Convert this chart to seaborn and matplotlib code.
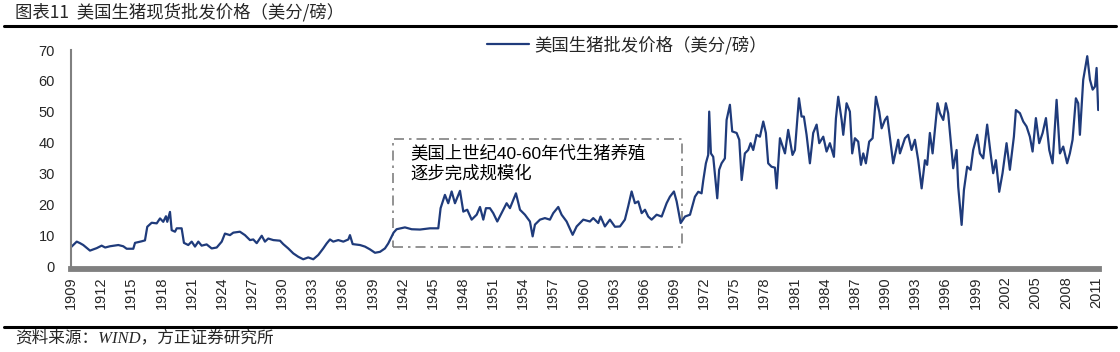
import matplotlib
matplotlib.use("Agg")
import matplotlib.pyplot as plt
import pandas as pd
import seaborn as sns
from matplotlib.lines import Line2D
from matplotlib.patches import Rectangle

TITLE = "图表11  美国生猪现货批发价格（美分/磅）"
SERIES_NAME = "美国生猪批发价格（美分/磅）"
NOTE = "美国上世纪40-60年代生猪养殖\n逐步完成规模化"
SOURCE = "资料来源：WIND，方正证券研究所"

# values (year position, cents per pound)
years_1909_1941 = [
    1909.0, 1909.57, 1909.9, 1910.22, 1910.89, 1911.56, 1912.05, 1912.4, 1912.88, 1913.71,
    1914.2, 1914.54, 1915.2, 1915.37, 1916.03, 1916.36, 1916.59, 1917.03, 1917.53, 1917.86,
    1918.18, 1918.45, 1918.58, 1918.85, 1919.02, 1919.35, 1919.52, 1920.01, 1920.24, 1920.67,
    1921.01, 1921.34, 1921.67, 1922.0, 1922.5, 1923.0, 1923.5, 1924.0, 1924.32, 1924.82,
    1925.15, 1925.81, 1926.31, 1926.81, 1927.14, 1927.48, 1927.98, 1928.3, 1928.63, 1929.13,
    1929.8, 1930.12, 1930.62, 1931.12, 1931.62, 1932.11, 1932.61, 1933.11, 1933.61, 1934.1,
    1934.44, 1934.77, 1935.1, 1935.6, 1936.1, 1936.6, 1936.76, 1937.03, 1937.76, 1938.25,
    1938.75, 1939.25, 1939.75, 1940.24, 1940.57, 1940.9,
]
price_1909_1941 = [
    6.3, 8.1, 7.6, 7.0, 5.2, 6.0, 6.8, 6.2, 6.6, 7.0,
    6.6, 5.8, 5.8, 7.7, 8.2, 8.5, 12.9, 14.2, 14.0, 15.6,
    14.5, 16.3, 14.5, 17.7, 11.8, 11.3, 12.4, 12.4, 7.7, 7.0,
    8.1, 6.5, 8.1, 6.8, 7.2, 5.9, 6.2, 8.1, 10.7, 10.2,
    11.0, 11.3, 10.2, 8.6, 8.8, 7.6, 10.0, 8.1, 9.1, 8.6,
    8.4, 7.3, 5.9, 4.3, 3.2, 2.4, 3.0, 2.4, 3.8, 5.9,
    7.5, 8.8, 8.1, 8.6, 8.1, 8.8, 10.2, 7.3, 7.0, 6.5,
    5.6, 4.5, 4.8, 5.9, 7.5, 9.7,
]

years_1941_1971 = [
    1941.1, 1941.4, 1942.23, 1942.9, 1943.73, 1944.72, 1945.55, 1945.78, 1946.21, 1946.54,
    1946.88, 1947.21, 1947.71, 1948.04, 1948.43, 1948.87, 1949.37, 1949.7, 1950.03, 1950.29,
    1950.69, 1951.02, 1951.42, 1951.85, 1952.35, 1952.68, 1953.28, 1953.68, 1954.17, 1954.67,
    1954.94, 1955.17, 1955.67, 1956.16, 1956.66, 1956.99, 1957.49, 1957.82, 1958.32, 1958.92,
    1959.32, 1959.98, 1960.64, 1960.97, 1961.47, 1961.7, 1962.13, 1962.63, 1963.13, 1963.63,
    1964.12, 1964.45, 1964.79, 1965.12, 1965.45, 1965.79, 1966.12, 1966.44, 1966.78, 1967.28,
    1967.78, 1968.27, 1968.6, 1969.0, 1969.27, 1969.67, 1970.1, 1970.6, 1971.09,
]
price_1941_1971 = [
    11.0, 12.1, 12.7, 12.1, 12.0, 12.4, 12.4, 18.9, 23.2, 20.5,
    24.3, 20.5, 24.5, 17.8, 18.4, 15.2, 16.8, 19.3, 15.2, 18.9,
    18.9, 17.3, 14.6, 17.3, 20.5, 18.9, 23.7, 18.4, 16.8, 14.6,
    9.8, 13.6, 15.2, 15.7, 15.2, 17.3, 19.3, 16.8, 14.6, 10.3,
    13.0, 15.2, 14.6, 15.7, 14.1, 16.2, 13.0, 15.2, 12.9, 13.0,
    15.2, 19.5, 24.3, 20.5, 21.1, 17.3, 18.4, 16.2, 15.2, 16.8,
    16.2, 20.5, 22.6, 24.3, 21.1, 14.1, 16.2, 16.8, 22.6,
]

years_1971_2011 = [
    1971.42, 1971.75, 1971.92, 1972.18, 1972.41, 1972.51, 1972.68, 1972.91, 1973.31, 1973.5,
    1973.74, 1974.07, 1974.24, 1974.57, 1974.8, 1975.24, 1975.5, 1975.74, 1976.06, 1976.39,
    1976.63, 1976.89, 1977.22, 1977.56, 1977.89, 1978.15, 1978.38, 1978.71, 1979.05, 1979.22,
    1979.55, 1980.05, 1980.37, 1980.8, 1981.04, 1981.44, 1981.7, 1981.93, 1982.2, 1982.53,
    1982.86, 1983.2, 1983.46, 1983.86, 1984.19, 1984.52, 1984.92, 1985.12, 1985.35, 1985.69,
    1985.85, 1986.18, 1986.51, 1986.74, 1987.01, 1987.34, 1987.61, 1987.84, 1988.1, 1988.43,
    1988.77, 1989.1, 1989.43, 1989.67, 1990.0, 1990.23, 1990.56, 1990.82, 1991.32, 1991.49,
    1991.99, 1992.31, 1992.65, 1992.98, 1993.31, 1993.65, 1993.98, 1994.2, 1994.47, 1994.74,
    1994.97, 1995.23, 1995.47, 1995.8, 1996.06, 1996.29, 1996.53, 1996.79, 1997.13, 1997.29,
    1997.63, 1997.86, 1998.18, 1998.52, 1998.78, 1999.18, 1999.45, 1999.78, 2000.17, 2000.51,
    2000.77, 2001.04, 2001.37, 2001.7, 2002.1, 2002.43, 2002.83, 2003.03, 2003.43, 2003.76,
    2004.09, 2004.42, 2004.69, 2005.02, 2005.35, 2005.69, 2006.02, 2006.35, 2006.68, 2007.08,
    2007.41, 2007.74, 2008.13, 2008.4, 2008.67, 2009.0, 2009.23, 2009.4, 2009.73, 2010.13,
    2010.4, 2010.67, 2010.9, 2011.06, 2011.22,
]
price_1971_2011 = [
    24.2, 23.7, 27.9, 33.4, 36.1, 50.1, 36.6, 35.5, 22.1, 31.3,
    33.4, 35.0, 47.4, 52.3, 43.7, 43.2, 41.0, 28.0, 36.6, 37.7,
    39.9, 37.7, 42.6, 42.0, 46.9, 43.2, 33.4, 32.3, 32.0, 25.3,
    41.5, 36.6, 44.2, 36.1, 37.7, 54.4, 48.5, 48.5, 42.6, 33.4,
    43.2, 45.9, 39.9, 42.0, 37.2, 39.9, 35.5, 47.9, 54.9, 47.4,
    42.6, 52.8, 50.1, 36.6, 41.5, 40.4, 32.9, 36.6, 33.4, 40.4,
    41.5, 54.9, 50.1, 44.7, 47.4, 48.5, 39.9, 33.4, 41.0, 36.6,
    41.5, 42.6, 37.7, 41.0, 34.4, 25.3, 34.4, 32.9, 43.2, 36.6,
    44.2, 52.8, 49.6, 47.4, 52.8, 49.6, 41.0, 31.8, 37.7, 25.8,
    13.5, 24.8, 32.3, 31.3, 37.7, 42.6, 36.6, 35.0, 45.9, 36.6,
    30.2, 34.4, 24.2, 30.2, 39.9, 31.3, 42.0, 50.6, 49.6, 46.9,
    45.3, 42.0, 37.2, 48.0, 39.9, 43.2, 48.0, 37.7, 33.4, 53.9,
    36.6, 38.8, 33.4, 36.6, 41.0, 54.4, 52.8, 42.6, 60.4, 68.0,
    60.4, 57.2, 58.2, 64.2, 50.6,
]

tick_years = list(range(1909, 2012, 3))
y_ticks = [0, 10, 20, 30, 40, 50, 60, 70]

LINE_COLOR = "#1F3B7B"
GRAY = "#808080"


def build_frame() -> pd.DataFrame:
    return pd.DataFrame({
        "year": years_1909_1941 + years_1941_1971 + years_1971_2011,
        "price": price_1909_1941 + price_1941_1971 + price_1971_2011,
    })


def build_figure(df: pd.DataFrame) -> plt.Figure:
    fig = plt.figure(figsize=(11.2, 3.52), dpi=100)
    ax = fig.add_axes([71 / 1120, 1 - 266.7 / 352, 1028 / 1120, 216.7 / 352])

    sns.lineplot(data=df, x="year", y="price", ax=ax, color=LINE_COLOR,
                 linewidth=1.6, label=SERIES_NAME)

    ax.set_xlim(1909.0, 2011.3)
    ax.set_ylim(0, 70)
    ax.set_xticks(tick_years)
    ax.set_xticklabels([str(y) for y in tick_years])
    ax.set_yticks(y_ticks)
    ax.set_yticklabels([str(v) for v in y_ticks])
    ax.set_xlabel("")
    ax.set_ylabel("")

    for side in ("top", "right"):
        ax.spines[side].set_visible(False)
    ax.spines["left"].set_color(GRAY)
    ax.spines["left"].set_linewidth(1.5)
    ax.spines["bottom"].set_color(GRAY)
    ax.spines["bottom"].set_linewidth(4.2)
    ax.spines["bottom"].set_position(("outward", 2))
    ax.tick_params(axis="x", length=0, pad=5, labelrotation=90, labelsize=10.5)
    ax.tick_params(axis="y", length=4.5, width=1.0, color=GRAY, pad=7, labelsize=10.5)
    ax.grid(False)

    # annotated period box
    box = Rectangle((1941.05, 6.4), 28.75, 34.9, fill=False, edgecolor=GRAY,
                    linewidth=1.2, linestyle=(0, (6, 3, 1.5, 3)), zorder=1)
    ax.add_patch(box)
    ax.text(1942.8, 33.5, NOTE, fontsize=12.5, va="center", ha="left",
            linespacing=1.25, color="black",
            family=["Liberation Sans", "Noto Sans CJK SC"])

    ax.legend(loc="center left", bbox_to_anchor=(487 / 1120, 1 - 45 / 352),
              bbox_transform=fig.transFigure, frameon=False, borderpad=0,
              borderaxespad=0, handlelength=2.4, handletextpad=0.35,
              prop={"size": 12.5, "family": ["Noto Sans CJK SC"]})

    # header / footer
    fig.text(15 / 1120, 1 - 12 / 352, TITLE, fontsize=12.5, va="center", ha="left",
             family=["Noto Sans CJK SC"])
    fig.add_artist(Line2D([4 / 1120, 1116 / 1120], [1 - 25.5 / 352] * 2,
                          color="black", linewidth=2.2, transform=fig.transFigure))
    fig.add_artist(Line2D([4 / 1120, 1116 / 1120], [1 - 327 / 352] * 2,
                          color="black", linewidth=2.2, transform=fig.transFigure))
    fig.text(15 / 1120, 1 - 338 / 352, SOURCE, fontsize=12, va="center", ha="left",
             style="italic", family=["Liberation Serif", "Noto Sans CJK SC"])
    return fig


def main() -> None:
    sns.set_theme(style="white")
    plt.rcParams["font.family"] = ["Liberation Sans", "Noto Sans CJK SC"]
    plt.rcParams["axes.unicode_minus"] = False
    fig = build_figure(build_frame())
    fig.savefig("out.png", dpi=100, facecolor="white")


if __name__ == "__main__":
    main()
